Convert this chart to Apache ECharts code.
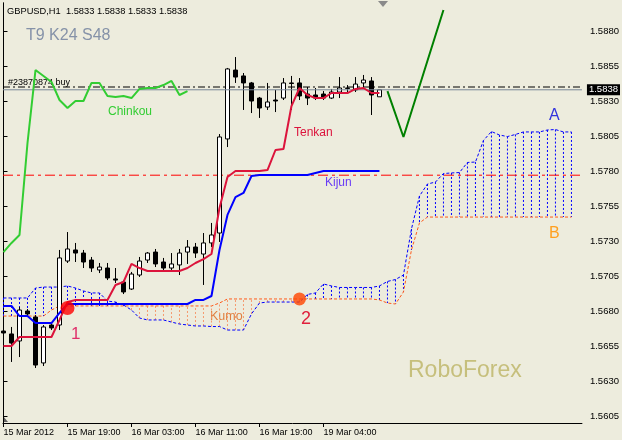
<!DOCTYPE html>
<html><head><meta charset="utf-8">
<script src="https://cdn.jsdelivr.net/npm/echarts@6/dist/echarts.min.js"></script>
<style>html,body{margin:0;padding:0;background:#edecdd}#c{width:622px;height:440px}</style>
</head><body><div id="c"></div>
<script>
// ---- data (prices, bar index on x) ----
const xLabelBars = [0, 8, 16, 24, 32, 40];
const xLabels = ['15 Mar 2012', '15 Mar 19:00', '16 Mar 03:00', '16 Mar 11:00', '16 Mar 19:00', '19 Mar 04:00'];
const yTicks = [1.5605, 1.5630, 1.5655, 1.5680, 1.5705, 1.5730, 1.5755, 1.5780, 1.5805, 1.5830, 1.5855, 1.5880];

const open = [1.56657, 1.56636, 1.56586, 1.5680, 1.56757, 1.56429, 1.5670, 1.5670, 1.57157, 1.57236, 1.57214, 1.57164, 1.57093, 1.57107, 1.57029, 1.57007, 1.56957, 1.57057, 1.57164, 1.57221, 1.5715, 1.57107, 1.57129, 1.57221, 1.57257, 1.57207, 1.57286, 1.57357, 1.58029, 1.58521, 1.58479, 1.58429, 1.58321, 1.58257, 1.58307, 1.58321, 1.58429, 1.58429, 1.5835, 1.58343, 1.5835, 1.58321, 1.58364, 1.58393, 1.58379, 1.58429, 1.58443, 1.5833];
const close = [1.56643, 1.56571, 1.56807, 1.56779, 1.56414, 1.56686, 1.56679, 1.57179, 1.57243, 1.57214, 1.5715, 1.57107, 1.57114, 1.57036, 1.57021, 1.56936, 1.57064, 1.57157, 1.57214, 1.57136, 1.57107, 1.57136, 1.57214, 1.57257, 1.57214, 1.57286, 1.57343, 1.58043, 1.58529, 1.58471, 1.58429, 1.5830, 1.5825, 1.58293, 1.5830, 1.58429, 1.58425, 1.58336, 1.58321, 1.58321, 1.58321, 1.58364, 1.58393, 1.5839, 1.58421, 1.5845, 1.58343, 1.5838];
const low = [1.56521, 1.56436, 1.56471, 1.56764, 1.56393, 1.56407, 1.56664, 1.56664, 1.57143, 1.5715, 1.57107, 1.57079, 1.57071, 1.57021, 1.5700, 1.56921, 1.5695, 1.57043, 1.57143, 1.57114, 1.57079, 1.57079, 1.57057, 1.57136, 1.57179, 1.56986, 1.57257, 1.57293, 1.57971, 1.58429, 1.58236, 1.58214, 1.58179, 1.58236, 1.58221, 1.58307, 1.58236, 1.58307, 1.58271, 1.58307, 1.58307, 1.58314, 1.58321, 1.58357, 1.58364, 1.58393, 1.5820, 1.5833];
const high = [1.56721, 1.56686, 1.56829, 1.56814, 1.56771, 1.5670, 1.56714, 1.57236, 1.57364, 1.57286, 1.57236, 1.57186, 1.57143, 1.57143, 1.57107, 1.57021, 1.57079, 1.57186, 1.57221, 1.57243, 1.57179, 1.57214, 1.57243, 1.57307, 1.57286, 1.57357, 1.57429, 1.58064, 1.58536, 1.58614, 1.5850, 1.58436, 1.58329, 1.58429, 1.58379, 1.58464, 1.58479, 1.58464, 1.5840, 1.58393, 1.58371, 1.58386, 1.58471, 1.58414, 1.58471, 1.58486, 1.58471, 1.5838];

const tenkan = [1.5655, 1.5655, 1.56614, 1.56614, 1.56614, 1.56614, 1.56614, 1.56736, 1.56864, 1.56879, 1.56879, 1.56879, 1.56879, 1.56879, 1.56986, 1.57007, 1.57136, 1.57107, 1.57086, 1.57086, 1.57086, 1.57086, 1.57086, 1.57107, 1.57143, 1.57171, 1.57207, 1.57536, 1.57757, 1.5780, 1.5780, 1.5780, 1.5780, 1.57807, 1.5795, 1.57957, 1.58264, 1.58393, 1.58343, 1.58321, 1.58321, 1.58357, 1.58357, 1.58357, 1.58386, 1.58393, 1.58357, 1.58357];
const kijun = [1.56836, 1.56836, 1.56764, 1.56764, 1.56714, 1.56714, 1.56714, 1.56786, 1.5685, 1.5685, 1.5685, 1.5685, 1.5685, 1.5685, 1.5685, 1.5685, 1.5685, 1.5685, 1.5685, 1.5685, 1.5685, 1.5685, 1.5685, 1.5685, 1.56879, 1.56879, 1.56907, 1.57236, 1.57486, 1.57614, 1.57643, 1.57764, 1.57771, 1.57771, 1.57771, 1.57771, 1.57771, 1.57771, 1.57771, 1.57786, 1.5780, 1.5780, 1.5780, 1.5780, 1.5780, 1.5780, 1.5780, 1.5780];
const chinkou = [1.57221, 1.57286, 1.57343, 1.5800, 1.58521, 1.58479, 1.58436, 1.58307, 1.5825, 1.5830, 1.5830, 1.58429, 1.58429, 1.58336, 1.58329, 1.58336, 1.58321, 1.58386, 1.58393, 1.58393, 1.58414, 1.58443, 1.58343, 1.58371];
const senkouA = [1.56893, 1.56893, 1.56893, 1.56893, 1.56964, 1.56971, 1.56971, 1.56971, 1.56979, 1.56964, 1.56943, 1.56929, 1.56929, 1.56871, 1.56864, 1.56843, 1.56807, 1.5675, 1.56736, 1.56736, 1.56736, 1.56721, 1.56707, 1.5670, 1.56693, 1.56693, 1.56689, 1.56689, 1.56664, 1.56664, 1.56664, 1.56779, 1.56857, 1.56864, 1.56864, 1.56864, 1.56864, 1.56864, 1.56918, 1.56929, 1.56993, 1.56979, 1.56968, 1.56968, 1.56968, 1.56968, 1.56968, 1.56979, 1.57011, 1.57025, 1.57057, 1.57386, 1.57621, 1.57707, 1.57721, 1.57782, 1.57786, 1.57789, 1.57861, 1.57864, 1.58018, 1.58082, 1.58057, 1.58046, 1.58061, 1.58079, 1.58079, 1.58079, 1.58093, 1.58096, 1.58079, 1.58079];
const senkouB = [1.56764, 1.56764, 1.56764, 1.56764, 1.56764, 1.56764, 1.56807, 1.56836, 1.56836, 1.56836, 1.56836, 1.56836, 1.56836, 1.56836, 1.56836, 1.56836, 1.56836, 1.56836, 1.56836, 1.56836, 1.56836, 1.56836, 1.56836, 1.56836, 1.56836, 1.56836, 1.56836, 1.56857, 1.56886, 1.56886, 1.56886, 1.56886, 1.56886, 1.56886, 1.56886, 1.56886, 1.56886, 1.56886, 1.56886, 1.56886, 1.56886, 1.56886, 1.56886, 1.56886, 1.56886, 1.56886, 1.56886, 1.56879, 1.56857, 1.5685, 1.56936, 1.57236, 1.57429, 1.57471, 1.57471, 1.57471, 1.57471, 1.57471, 1.57471, 1.57471, 1.57471, 1.57471, 1.57471, 1.57471, 1.57471, 1.57471, 1.57471, 1.57471, 1.57471, 1.57471, 1.57471, 1.57471];
const forecastBars = [48, 50, 55];
const forecast = [1.58371, 1.58043, 1.5895];
const signalBars = [8, 37];
const signals = [1.56821, 1.56886];
const bidPrice = 1.5838;
const orderPrice = 1.5840;
const levelPrice = 1.5777;

// ---- build ----
const X_MIN = -0.0625, X_MAX = 72.3125;
const candleData = open.map((o, i) => [i, o, close[i], low[i], high[i]]);
const pairs = arr => arr.map((v, i) => [i, v]);
const cloudData = senkouA.map((a, i) => [i, a, senkouB[i]]);
const FONT = '"Liberation Sans", Arial, sans-serif';
const BLUE = '#0000ff', ORANGE = '#ff5a1a';
const hSeries = (price, color, type, z, extra) => Object.assign({
  type: 'line', z: z, silent: true, symbol: 'none',
  data: [[X_MIN, price], [X_MAX, price]],
  lineStyle: {color: color, width: 1, type: type}
}, extra || {});

const chart = echarts.init(document.getElementById('c'), null, {renderer: 'canvas'});
chart.setOption({
  animation: false,
  backgroundColor: '#edecdd',
  grid: {left: 3, right: 40, top: 3, bottom: 17},
  xAxis: {
    type: 'value', min: X_MIN, max: X_MAX,
    axisLine: {show: true, lineStyle: {color: '#000', width: 1}},
    splitLine: {show: false},
    axisTick: {show: true, customValues: xLabelBars, length: 4, lineStyle: {color: '#000'}},
    axisLabel: {customValues: xLabelBars, formatter: v => xLabels[xLabelBars.indexOf(Math.round(v))] || '',
      align: 'left', margin: 5, fontSize: 9, color: '#000', fontFamily: FONT}
  },
  yAxis: [{
    type: 'value', position: 'right', min: 1.5600, max: 1.5900, scale: true,
    axisLine: {show: true, lineStyle: {color: '#000', width: 1}},
    splitLine: {show: false},
    axisTick: {show: true, customValues: yTicks, length: 4, lineStyle: {color: '#000'}},
    axisLabel: {customValues: yTicks, formatter: v => v.toFixed(4), margin: 8, fontSize: 9.5, color: '#000', fontFamily: FONT}
  }, {
    type: 'value', position: 'left', min: 1.5600, max: 1.5900, scale: true,
    axisLine: {show: true, onZero: false, lineStyle: {color: '#000', width: 1}},
    axisTick: {show: false}, axisLabel: {show: false}, splitLine: {show: false}
  }],
  series: [
    {
      type: 'custom', z: 1, silent: true, data: cloudData,
      renderItem: (params, api) => {
        const i = api.value(0), a = api.value(1), b = api.value(2);
        const p1 = api.coord([i, a]), p2 = api.coord([i, b]);
        return {type: 'line', shape: {x1: p1[0], y1: p1[1], x2: p2[0], y2: p2[1]},
          style: {stroke: a >= b ? BLUE : '#f59a6e', lineWidth: 1, lineDash: [2, 2]}};
      }
    },
    {type: 'line', z: 2, data: pairs(senkouA), symbol: 'none', silent: true,
      lineStyle: {color: BLUE, width: 1, type: [3, 2]}},
    {type: 'line', z: 2, data: pairs(senkouB), symbol: 'none', silent: true,
      lineStyle: {color: ORANGE, width: 1, type: [3, 2]}},
    hSeries(levelPrice, '#ff0000', [10, 4, 3, 4], 2),
    hSeries(orderPrice, '#000000', [7, 3, 2, 3], 2),
    {
      type: 'candlestick', z: 3, data: candleData, barWidth: 5,
      itemStyle: {color: '#ffffff', color0: '#000000', borderColor: '#000000', borderColor0: '#000000', borderWidth: 1}
    },
    hSeries(bidPrice, '#7a8898', 'solid', 4, {
      endLabel: {show: true, formatter: '1.5838', color: '#fff', backgroundColor: '#000',
        padding: [1, 2, 0, 2], fontSize: 9.5, fontFamily: FONT, distance: 5}
    }),
    {type: 'line', z: 4, data: pairs(kijun), symbol: 'none', silent: true, lineStyle: {color: BLUE, width: 2}},
    {type: 'line', z: 4, data: pairs(tenkan), symbol: 'none', silent: true, lineStyle: {color: '#dc143c', width: 2}},
    {type: 'line', z: 4, data: pairs(chinkou), symbol: 'none', silent: true, lineStyle: {color: '#32cd32', width: 2}},
    {type: 'line', z: 5, data: forecastBars.map((b, i) => [b, forecast[i]]), symbol: 'none', silent: true,
      lineStyle: {color: '#008000', width: 2}},
    {type: 'scatter', z: 6, silent: true, data: signalBars.map((b, i) => [b, signals[i]]),
      symbolSize: (v, p) => p.dataIndex === 0 ? 14 : 13,
      itemStyle: {color: p => p.dataIndex === 0 ? '#ff0000' : '#ff4500'}}
  ],
  graphic: [
    {type: 'text', x: 7, y: 11, style: {text: 'GBPUSD,H1  1.5833 1.5838 1.5833 1.5838', font: '9.3px ' + FONT, fill: '#000', verticalAlign: 'middle'}},
    {type: 'text', x: 26, y: 36, style: {text: 'T9 K24 S48', font: '16px ' + FONT, fill: '#8592a8', verticalAlign: 'middle'}},
    {type: 'text', x: 8, y: 83, z: 1, style: {text: '#23870874 buy', font: '9px ' + FONT, fill: '#000', verticalAlign: 'middle'}},
    {type: 'text', x: 108, y: 112, style: {text: 'Chinkou', font: '12px ' + FONT, fill: '#32cd32', verticalAlign: 'middle'}},
    {type: 'text', x: 294, y: 133, style: {text: 'Tenkan', font: '12px ' + FONT, fill: '#dc143c', verticalAlign: 'middle'}},
    {type: 'text', x: 325, y: 183, style: {text: 'Kijun', font: '12px ' + FONT, fill: '#6a3cf5', verticalAlign: 'middle'}},
    {type: 'text', x: 210, y: 317, style: {text: 'Kumo', font: '12.5px ' + FONT, fill: '#e08040', verticalAlign: 'middle'}},
    {type: 'text', x: 549, y: 116, style: {text: 'A', font: '16px ' + FONT, fill: '#3333dd', verticalAlign: 'middle'}},
    {type: 'text', x: 549, y: 234, style: {text: 'B', font: '16px ' + FONT, fill: '#ffa020', verticalAlign: 'middle'}},
    {type: 'text', x: 71, y: 334, style: {text: '1', font: '17px ' + FONT, fill: '#e0306a', verticalAlign: 'middle'}},
    {type: 'text', x: 301, y: 319, style: {text: '2', font: '18px ' + FONT, fill: '#e0203c', verticalAlign: 'middle'}},
    {type: 'text', x: 408, y: 371, style: {text: 'RoboForex', font: '23px ' + FONT, fill: '#c6bf7c', verticalAlign: 'middle'}},
    {type: 'polygon', shape: {points: [[378, 1], [388, 1], [383, 7]]}, style: {fill: '#8a8a8a'}},
    {type: 'polygon', shape: {points: [[3, 416], [3, 422], [8, 422]]}, style: {fill: '#606060'}}
  ]
});
</script>
</body></html>
